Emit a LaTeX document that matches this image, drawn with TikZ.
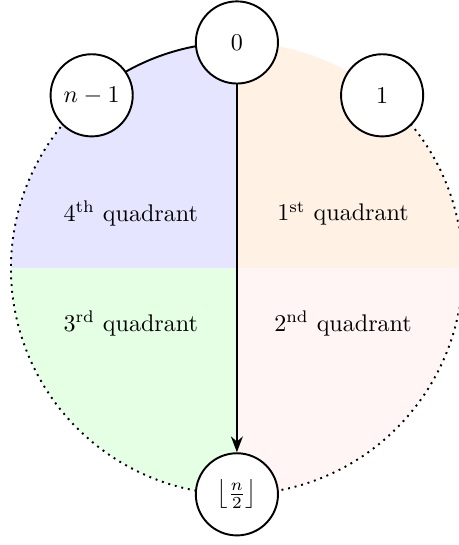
\documentclass[tikz,border=0pt]{standalone}
\usetikzlibrary{arrows.meta}
\begin{document}
\begin{tikzpicture}[proc/.style={circle, draw, thick, fill=white, minimum size=1.2cm}]
    \clip (-3.46,-4.04) rectangle (3.24,3.92);
    % quadrants
    \fill[orange!10] (0,0) -- (0:3.3) arc (0:90:3.3) -- cycle;
    \fill[blue!10] (0,0) -- (90:3.3) arc (90:180:3.3) -- cycle;
    \fill[green!10] (0,0) -- (180:3.3) arc (180:270:3.3) -- cycle;
    \fill[red!4] (0,0) -- (270:3.3) arc (270:360:3.3) -- cycle;
    % ring
    \draw[thick] (130:3.3) arc (130:90:3.3);
    \draw[thick, dotted] (50:3.3) arc (50:-230:3.3);
    \node[proc] (p0) at (90:3.3) {$0$};
    \node[proc] (p1) at (50:3.3) {$1$};
    \node[proc] (plast) at (130:3.3) {$n-1$};
    \node[proc] (pmid) at (270:3.3) {$\left\lfloor\frac{n}{2}\right\rfloor$};
    \draw[thick, -{Stealth}] (p0) -- (pmid);
    \node (q1) at (1.55,0.8) {1\textsuperscript{st} quadrant};
    \node (q2) at (1.55,-0.8) {2\textsuperscript{nd} quadrant};
    \node (q3) at (-1.55,-0.8) {3\textsuperscript{rd} quadrant};
    \node (q4) at (-1.55,0.8) {4\textsuperscript{th} quadrant};
\end{tikzpicture}
\end{document}
